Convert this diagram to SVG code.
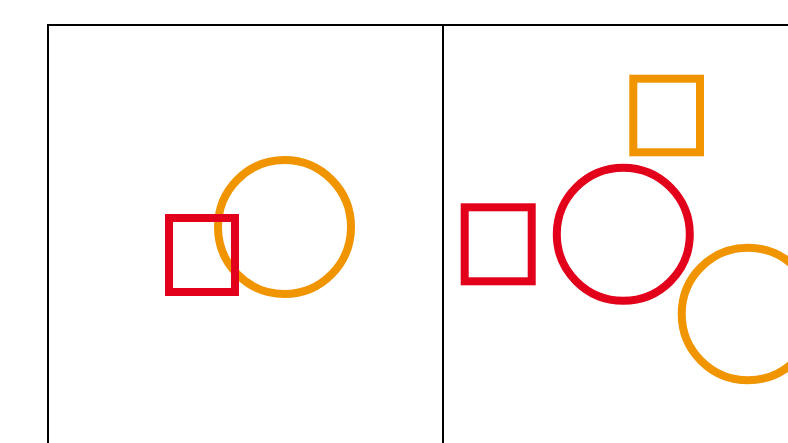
<svg xmlns="http://www.w3.org/2000/svg" width="788" height="443" viewBox="0 0 788 443">
<style>
.frame{fill:none;stroke:#000;stroke-width:2}
.red{fill:none;stroke:#e2001a;stroke-width:8}
.orange{fill:none;stroke:#f09400;stroke-width:8}
</style>
<rect width="788" height="443" fill="#fff"/>
<g id="frame">
<path class="frame" d="M48,444 V25 H789 M443,25 V444"/>
</g>
<g id="left-panel">
<g id="left-circle"><ellipse class="orange" cx="284.5" cy="227" rx="66.5" ry="67"/></g>
<g id="left-square"><rect class="red" x="169" y="218" width="66" height="74"/></g>
</g>
<g id="right-panel">
<g id="right-orange-square"><rect class="orange" x="633.3" y="78.7" width="66.7" height="73.6"/></g>
<g id="right-red-square"><rect class="red" x="464.7" y="207.3" width="67" height="74"/></g>
<g id="right-red-circle"><circle class="red" cx="623.3" cy="234.3" r="66.5"/></g>
<g id="right-orange-circle"><circle class="orange" cx="748" cy="314" r="66.3"/></g>
</g>
<g id="connectors"></g>
</svg>
